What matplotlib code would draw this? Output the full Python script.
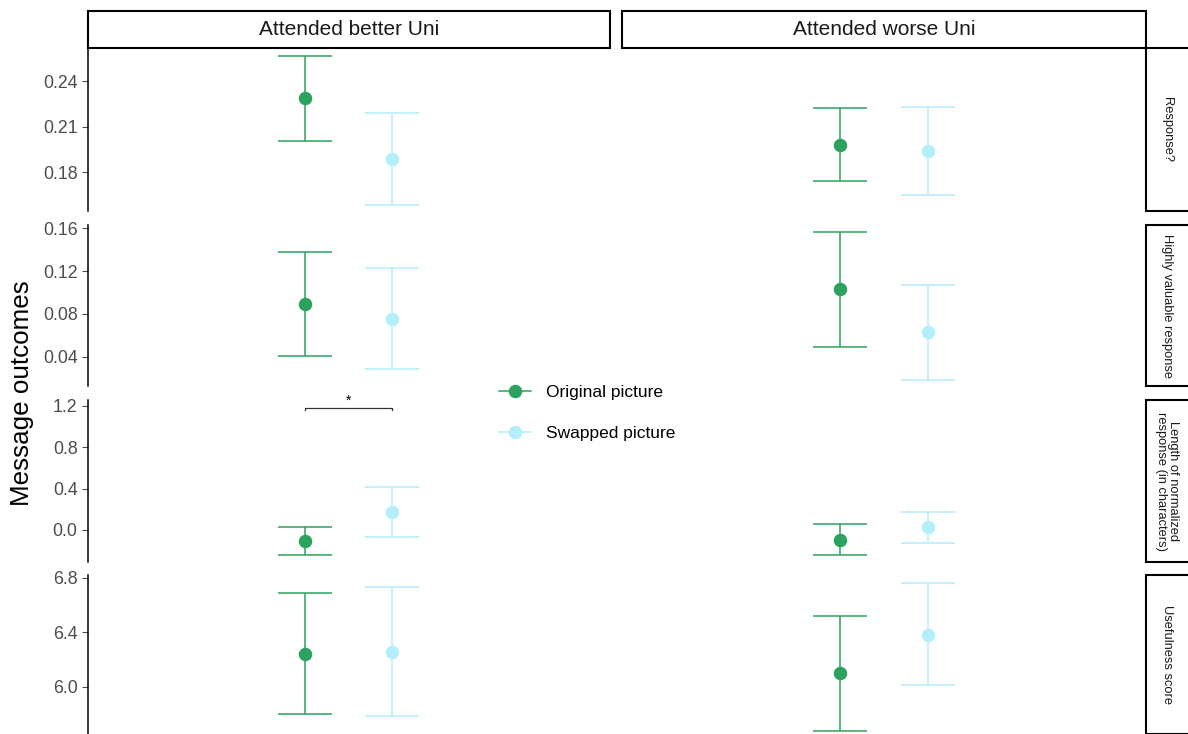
import matplotlib
matplotlib.use("Agg")
import matplotlib.pyplot as plt
from matplotlib.patches import Rectangle
from matplotlib.lines import Line2D

plt.rcParams['font.family'] = ['Liberation Sans', 'DejaVu Sans']

# ---------------- data ----------------
columns = ["Attended better Uni", "Attended worse Uni"]
outcomes = ["Response?", "Highly valuable response",
            "Length of normalized\nresponse (in characters)", "Usefulness score"]
groups = ["Original picture", "Swapped picture"]
group_x = [0.9, 1.1]

# mean, lower, upper  -> [outcome][column][group]
means = [
    [[0.2288, 0.1886], [0.1978, 0.1938]],
    [[0.0893, 0.0753], [0.1033, 0.0633]],
    [[-0.107, 0.174], [-0.097, 0.029]],
    [[6.239, 6.257], [6.100, 6.385]],
]
lowers = [
    [[0.2004, 0.1582], [0.1741, 0.1648]],
    [[0.0409, 0.0288], [0.0493, 0.0186]],
    [[-0.242, -0.068], [-0.242, -0.126]],
    [[5.802, 5.787], [5.677, 6.015]],
]
uppers = [
    [[0.2565, 0.2189], [0.2222, 0.2229]],
    [[0.1377, 0.1228], [0.1563, 0.1070]],
    [[0.029, 0.416], [0.058, 0.174]],
    [[6.690, 6.734], [6.518, 6.760]],
]
y_limits = [(0.1543, 0.2618), (0.013, 0.1628), (-0.31, 1.258), (5.655, 6.822)]
y_ticks = [[0.18, 0.21, 0.24], [0.04, 0.08, 0.12, 0.16],
           [0.0, 0.4, 0.8, 1.2], [6.0, 6.4, 6.8]]
y_ticklabels = [["0.18", "0.21", "0.24"], ["0.04", "0.08", "0.12", "0.16"],
                ["0.0", "0.4", "0.8", "1.2"], ["6.0", "6.4", "6.8"]]
# significance bracket: (outcome, column, y of bar, label)
sig_bracket = (2, 0, 1.18, "*")

colors = ["#2CA25F", "#B3EEFB"]

# ---------------- layout ----------------
W, H = 1188, 734
fig = plt.figure(figsize=(W / 100, H / 100), dpi=100)

def frac(x0, y0, x1, y1):
    return [x0 / W, 1 - y1 / H, (x1 - x0) / W, (y1 - y0) / H]

col_x = [(88, 610), (622, 1146)]
row_y = [(48, 211), (225, 386), (400, 562), (575, 734)]

tick_color = "#4D4D4D"
for r in range(4):
    for c in range(2):
        ax = fig.add_axes(frac(col_x[c][0], row_y[r][0], col_x[c][1], row_y[r][1]))
        for g in range(2):
            m = means[r][c][g]
            lo = lowers[r][c][g]
            hi = uppers[r][c][g]
            ax.errorbar([group_x[g]], [m], yerr=[[m - lo], [hi - m]],
                        fmt='o', color=colors[g], ms=8.7, elinewidth=1.1,
                        capsize=19.5, capthick=1.1, zorder=3)
        ax.set_xlim(0.4, 1.6)
        ax.set_ylim(*y_limits[r])
        ax.set_xticks([])
        for s in ["top", "right", "bottom"]:
            ax.spines[s].set_visible(False)
        if c == 0:
            ax.spines["left"].set_color("black")
            ax.spines["left"].set_linewidth(1.1)
            ax.set_yticks(y_ticks[r])
            ax.set_yticklabels(y_ticklabels[r])
            ax.tick_params(axis='y', colors=tick_color, labelsize=12.8,
                           length=4, width=0.8, labelcolor=tick_color)
        else:
            ax.spines["left"].set_visible(False)
            ax.set_yticks([])
        ax.patch.set_visible(False)
        if (r, c) == sig_bracket[:2]:
            yb = sig_bracket[2]
            drop = (y_limits[r][1] - y_limits[r][0]) * 0.015
            ax.plot([group_x[0], group_x[0], group_x[1], group_x[1]],
                    [yb - drop, yb, yb, yb - drop], color="#333333", lw=0.9,
                    clip_on=False)
            ax.text(sum(group_x) / 2, yb + drop * 0.1, sig_bracket[3],
                    ha='center', va='bottom', fontsize=10, color="black")

# top strips
for c in range(2):
    x0, x1 = col_x[c]
    fig.patches.append(Rectangle((x0 / W, 1 - 48 / H), (x1 - x0) / W, 37 / H,
                                 transform=fig.transFigure, facecolor="white",
                                 edgecolor="black", lw=1.5))
    fig.text((x0 + x1) / 2 / W, 1 - 29.5 / H, columns[c], ha='center', va='center',
             fontsize=15, color="#1A1A1A")

# right strips
for r in range(4):
    y0, y1 = row_y[r]
    fig.patches.append(Rectangle((1146 / W, 1 - y1 / H), 60 / W, (y1 - y0) / H,
                                 transform=fig.transFigure, facecolor="white",
                                 edgecolor="black", lw=1.5, clip_on=False))
    fig.text(1167 / W, 1 - (y0 + y1) / 2 / H, outcomes[r], ha='center', va='center',
             rotation=-90, fontsize=9.3, color="#1A1A1A", multialignment='center',
             linespacing=0.95)

# y label
fig.text(22 / W, 1 - 393 / H, "Message outcomes", rotation=90, ha='center',
         va='center', fontsize=18.7, color="black")

# legend
handles = [Line2D([0], [0], color=colors[g], marker='o', ms=8.7, lw=1.1)
           for g in range(2)]
fig.legend(handles, groups, loc='center left',
           bbox_to_anchor=(483 / W, 1 - 413 / H), frameon=False,
           fontsize=12.5, handlelength=1.85, handletextpad=0.9,
           labelspacing=1.45)

fig.savefig("out.png", dpi=100)
